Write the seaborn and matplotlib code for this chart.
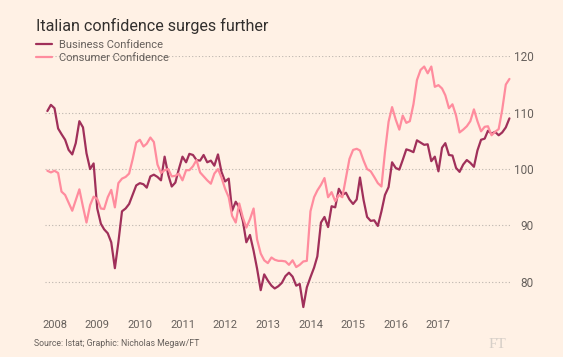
import pandas as pd
import numpy as np
import seaborn as sns
import matplotlib.pyplot as plt

# Monthly readings, Nov 2007 onwards (as placed on the chart's axis)
months = pd.date_range('2007-11-01', periods=131, freq='MS')

business = [
    110.3, 111.4, 110.8, 107.2, 106.2, 105.2, 103.4, 102.6, 104.6, 108.5,
    107.4, 102.8, 100.0, 101.0, 93.0, 90.3, 89.3, 88.6, 87.0, 82.4,
    87.0, 92.5, 93.0, 93.8, 95.5, 97.1, 97.5, 97.3, 96.7, 98.7,
    99.0, 98.6, 98.0, 102.2, 99.0, 96.9, 97.6, 100.0, 102.2, 101.2,
    102.7, 102.5, 101.6, 101.5, 102.5, 101.2, 101.5, 100.6, 102.6, 99.5,
    97.8, 98.3, 92.6, 94.2, 93.2, 90.8, 87.0, 88.3, 85.5, 82.3,
    78.5, 81.3, 80.2, 79.3, 78.8, 79.2, 79.8, 81.0, 81.6, 80.9,
    79.3, 79.6, 75.5, 79.0, 80.8, 82.5, 84.5, 90.5, 91.5, 89.7,
    93.4, 93.2, 96.5, 95.4, 95.8, 94.6, 93.8, 94.6, 98.5, 94.5,
    91.5, 90.8, 90.9, 89.9, 92.5, 95.4, 96.8, 101.2, 100.2, 99.9,
    101.6, 103.5, 103.3, 103.0, 105.1, 104.7, 104.3, 104.4, 101.4, 102.2,
    99.6, 103.8, 104.6, 102.5, 102.4, 100.2, 99.5, 100.8, 101.6, 101.1,
    100.4, 103.3, 105.2, 105.4, 106.8, 106.3, 106.6, 106.0, 106.5, 107.4,
    109.0,
]

consumer = [
    99.7, 99.4, 99.7, 99.3, 96.0, 95.4, 94.0, 92.6, 94.5, 96.4,
    93.3, 90.5, 93.6, 95.1, 94.7, 93.0, 92.9, 95.0, 96.3, 93.2,
    97.5, 98.3, 98.6, 99.2, 101.8, 104.7, 105.2, 104.0, 104.5, 105.6,
    104.8, 100.8, 99.3, 99.8, 100.0, 98.7, 98.8, 99.2, 98.0, 99.8,
    99.8, 100.5, 101.6, 99.4, 98.7, 98.0, 97.4, 99.2, 100.0, 98.5,
    96.5, 95.0, 91.7, 90.5, 93.9, 91.4, 89.6, 91.1, 93.0, 87.5,
    85.0, 83.8, 83.3, 84.3, 83.9, 83.7, 83.7, 83.6, 83.0, 83.8,
    82.6, 83.0, 83.6, 83.7, 92.5, 95.0, 96.2, 97.2, 98.4, 95.0,
    95.9, 94.3, 95.4, 95.0, 98.5, 101.8, 103.4, 103.6, 103.3, 101.5,
    100.0, 99.6, 98.6, 97.5, 96.9, 103.0, 108.4, 111.0, 108.8, 107.0,
    109.5, 108.2, 108.5, 111.5, 115.8, 117.6, 118.2, 117.0, 118.2, 114.6,
    114.9, 114.3, 113.1, 110.8, 111.5, 109.5, 106.5, 107.0, 107.6, 108.5,
    110.6, 108.5, 106.7, 107.5, 107.6, 106.0, 106.6, 107.1, 110.5, 115.0,
    116.0,
]

series_names = ['Business Confidence', 'Consumer Confidence']
colors = ['#a0305a', '#ff8c9e']
years = list(range(2008, 2018))
yticks = [80, 90, 100, 110, 120]

bg = '#fff1e5'
text_grey = '#66605c'

df = pd.DataFrame({'month': months, series_names[0]: business, series_names[1]: consumer})
long_df = df.melt(id_vars='month', var_name='series', value_name='value')

sns.set_style('white')
plt.rcParams['font.family'] = ['Roboto', 'DejaVu Sans']

fig = plt.figure(figsize=(5.63, 3.57), dpi=100, facecolor=bg)
ax = fig.add_axes([0.080, 0.132, 0.829, 0.710])
ax.set_facecolor(bg)

sns.lineplot(data=long_df, x='month', y='value', hue='series', hue_order=series_names,
             palette=colors, linewidth=1.6, ax=ax, legend=False)

ax.set_ylim(75, 120)
ax.set_xlim(months[0] - pd.Timedelta(days=20), months[-1] + pd.Timedelta(days=20))

# dotted horizontal grid
for v in yticks:
    ax.axhline(v, color='#bdb5ae', linestyle=(0, (1, 2)), linewidth=0.8, zorder=0)

for s in ax.spines.values():
    s.set_visible(False)

ax.yaxis.tick_right()
ax.set_yticks(yticks)
ax.set_yticklabels([str(v) for v in yticks])
ax.tick_params(axis='y', length=0, pad=16, labelsize=8.5, labelcolor=text_grey)
for lbl in ax.get_yticklabels():
    lbl.set_horizontalalignment('right')

ax.set_xticks([pd.Timestamp(f'{y}-01-01') for y in years])
ax.set_xticklabels([str(y) for y in years])
ax.tick_params(axis='x', direction='out', length=4, width=0.8, color='#c8c0b8',
               pad=3, labelsize=8, labelcolor=text_grey)
ax.set_xlabel('')
ax.set_ylabel('')

# title and legend
fig.text(36 / 563, 1 - 31 / 357, 'Italian confidence surges further', fontsize=11.6,
         color='#33302e', ha='left', va='baseline')
handles = [plt.Line2D([], [], color=c, linewidth=1.6) for c in colors]
fig.legend(handles, series_names, loc='upper left', bbox_to_anchor=(28 / 563, 1 - 32 / 357),
           frameon=False, fontsize=8, labelcolor=text_grey, handlelength=1.45,
           handletextpad=0.6, labelspacing=0.25, borderpad=0.2)

fig.text(34 / 563, 1 - 346 / 357, 'Source: Istat; Graphic: Nicholas Megaw/FT', fontsize=6.3,
         color=text_grey, ha='left', va='baseline')
fig.text(506 / 563, 1 - 348 / 357, 'FT', fontsize=11, color='#d6cfc8', ha='right',
         va='baseline', family=['Liberation Serif', 'DejaVu Serif'])

fig.savefig('out.png', dpi=100, facecolor=bg)
